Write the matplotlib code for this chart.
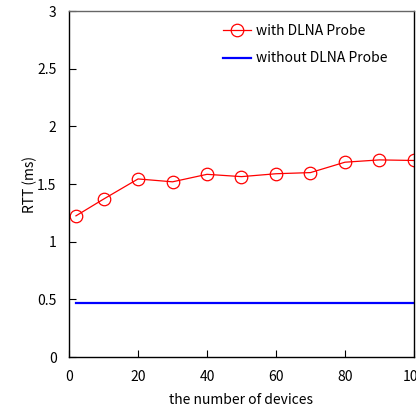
import matplotlib
matplotlib.use("Agg")
import matplotlib.pyplot as plt

plt.rcParams['font.family'] = ['Noto Sans CJK JP', 'DejaVu Sans']

# data
devices = [2, 10, 20, 30, 40, 50, 60, 70, 80, 90, 100]
rtt_with_probe = [1.225, 1.37, 1.545, 1.52, 1.585, 1.565, 1.59, 1.60, 1.69, 1.71, 1.705]
rtt_without_x = [2, 100]
rtt_without_probe = [0.47, 0.47]

fig = plt.figure(figsize=(4.16, 4.11), dpi=100)
ax = fig.add_axes([0.166, 0.131, 0.829, 0.842])

ax.plot(devices, rtt_with_probe, color='red', lw=0.9, marker='o', markersize=9,
        markerfacecolor='none', markeredgewidth=0.9, label='with DLNA Probe')
ax.plot(rtt_without_x, rtt_without_probe, color='blue', lw=1.6, label='without DLNA Probe')

ax.set_xlim(0, 100)
ax.set_ylim(0, 3)
ax.set_xticks([0, 20, 40, 60, 80, 100])
ax.set_yticks([0, 0.5, 1, 1.5, 2, 2.5, 3])
ax.set_yticklabels(['0', '0.5', '1', '1.5', '2', '2.5', '3'])
ax.tick_params(direction='in', length=5, labelsize=10, top=False, right=False, pad=9)
ax.spines['top'].set_color('#666666')
for s in ax.spines.values():
    s.set_linewidth(1.0)

ax.set_xlabel('the number of devices', fontsize=10, labelpad=7)
ax.set_ylabel('RTT (ms)', fontsize=10, labelpad=0)

ax.legend(loc='upper left', bbox_to_anchor=(0.41, 1.0), frameon=False, fontsize=10,
          handlelength=2.0, handletextpad=0.4, labelspacing=1.0)

plt.savefig('out.png', dpi=100)
